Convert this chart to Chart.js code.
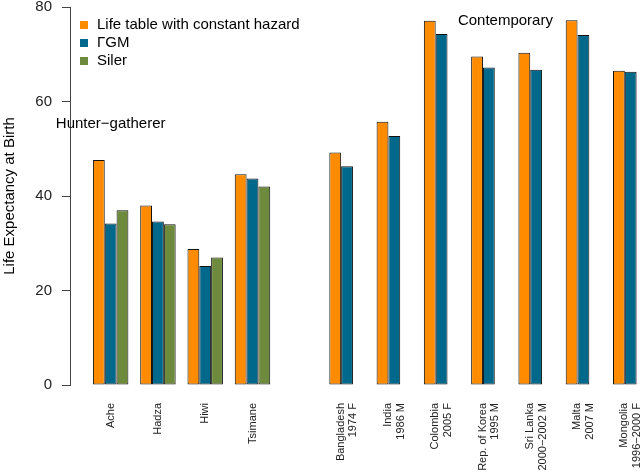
<!DOCTYPE html>
<html>
<head>
<meta charset="utf-8">
<script src="https://cdn.jsdelivr.net/npm/chart.js@4.4.0/dist/chart.umd.min.js"></script>
<style>
  body { margin: 0; background: #fff; overflow: hidden; }
</style>
</head>
<body>
<canvas id="myChart" width="643" height="474"></canvas>
<script>
// categories (index 4 is the empty gap between the two groups)
const categories = [
  'Ache', 'Hadza', 'Hiwi', 'Tsimane', '',
  ['Bangladesh', '1974 F'], ['India', '1986 M'], ['Colombia', '2005 F'],
  ['Rep. of Korea', '1995 M'], ['Sri Lanka', '2000−2002 M'], ['Malta', '2007 M'],
  ['Mongolia', '1996−2000 F']
]
const lifeTable = [47.6, 38.0, 28.8, 44.6, null, 49.2, 55.7, 77.1, 69.5, 70.3, 77.2, 66.5]
const gammaGM   = [34.2, 34.6, 25.2, 43.7, null, 46.3, 52.7, 74.3, 67.2, 66.7, 74.1, 66.3]
const siler     = [37.0, 34.0, 27.0, 42.0, null, null, null, null, null, null, null, null]

const seriesNames = ['Life table with constant hazard', 'ΓGM', 'Siler']
const seriesColors = ['#FF8C00', '#00688B', '#6E8B3D']
const yTicks = [0, 20, 40, 60, 80]

const groupTitles = ['Hunter−gatherer', 'Contemporary']
const groupTitleX = [0, 8.35]
const groupTitleY = [55.2, 77.1]

const FONT = '"Liberation Sans", Arial, sans-serif'
const X_LINE_H = 11 * 1.15

const toPoints = arr => arr.map((v, i) => ({ x: i, y: v }))
const tickIdx = categories.map((c, i) => i).filter(i => categories[i] !== '')

const extras = {
  id: 'extras',
  beforeDraw(chart) {
    // center two-line rotated labels on their tick instead of starting there
    chart.scales.x.getLabelItems().forEach(item => {
      if (Array.isArray(item.label) && !item._moved) {
        item.options.translation[0] -= X_LINE_H * (item.label.length - 1) / 2
        item._moved = true
      }
    })
  },
  afterDraw(chart) {
    const ctx = chart.ctx
    const x = chart.scales.x
    const y = chart.scales.y
    ctx.save()
    ctx.font = '15px ' + FONT
    ctx.fillStyle = '#000'
    ctx.textAlign = 'center'
    ctx.textBaseline = 'middle'
    groupTitles.forEach((t, i) => {
      ctx.fillText(t, x.getPixelForValue(groupTitleX[i]), y.getPixelForValue(groupTitleY[i]))
    })
    // legend
    ctx.textAlign = 'left'
    seriesNames.forEach((name, i) => {
      const ly = chart.chartArea.top + 18 + i * 18
      ctx.fillStyle = seriesColors[i]
      ctx.fillRect(80, ly - 4, 8, 8)
      ctx.fillStyle = '#000'
      ctx.fillText(name, 97, ly)
    })
    ctx.restore()
  }
}

const ctx = document.getElementById('myChart').getContext('2d')
const chart = new Chart(ctx, {
  type: 'bar',
  data: {
    datasets: [lifeTable, gammaGM, siler].map((d, i) => ({
      label: seriesNames[i],
      data: toPoints(d),
      backgroundColor: seriesColors[i],
      borderColor: '#111',
      borderWidth: 1,
      borderSkipped: false,
      categoryPercentage: 0.75,
      barPercentage: 1
    }))
  },
  options: {
    responsive: false,
    devicePixelRatio: 1,
    animation: false,
    layout: { padding: { top: 7, left: 0, right: 0, bottom: 0 } },
    plugins: {
      legend: { display: false },
      tooltip: { enabled: false }
    },
    scales: {
      x: {
        type: 'linear',
        min: -0.86,
        max: 11.26,
        offset: false,
        grid: { display: false, drawTicks: false },
        border: { display: false },
        afterBuildTicks: scale => {
          scale.ticks = tickIdx.map(v => ({ value: v }))
        },
        afterFit: scale => {
          scale.height = 89
          scale.paddingLeft = 0
          scale.paddingRight = 0
        },
        ticks: {
          autoSkip: false,
          minRotation: 90,
          maxRotation: 90,
          padding: 18,
          color: '#222',
          font: { family: FONT, size: 11, lineHeight: 1.15 },
          callback: v => categories[v]
        }
      },
      y: {
        min: 0,
        max: 80,
        afterBuildTicks: scale => {
          scale.ticks = yTicks.map(v => ({ value: v }))
        },
        afterFit: scale => {
          scale.width = 70
          scale.paddingTop = 0
          scale.paddingBottom = 0
        },
        grid: { drawOnChartArea: false, tickLength: 8, tickColor: '#444' },
        border: { display: true, color: '#444' },
        ticks: {
          padding: 10,
          color: '#222',
          font: { family: FONT, size: 15 }
        },
        title: {
          display: true,
          text: 'Life Expectancy at Birth',
          color: '#000',
          padding: { top: 1, bottom: 0 },
          font: { family: FONT, size: 15 }
        }
      }
    }
  },
  plugins: [extras]
})
</script>
</body>
</html>
